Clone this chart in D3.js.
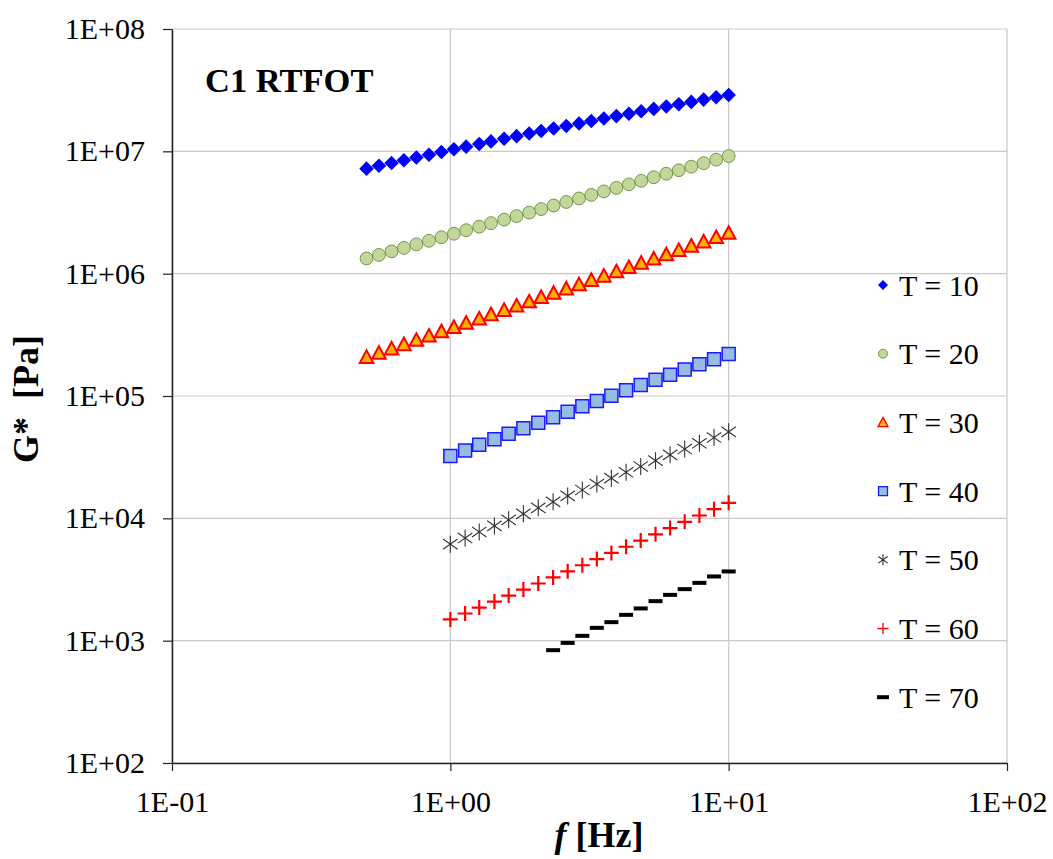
<!DOCTYPE html>
<html>
<head>
<meta charset="utf-8">
<script src="https://cdn.jsdelivr.net/npm/d3@7/dist/d3.min.js"></script>
<style>
body { margin: 0; background: #fff; }
svg text { font-family: "Liberation Serif", "Times New Roman", Times, "DejaVu Serif", serif; fill: #000; }
</style>
</head>
<body>
<svg id="chart"></svg>
<script>
// frequencies [Hz]
const freqLow = [0.5, 0.554, 0.615, 0.681, 0.755, 0.838, 0.929, 1.03, 1.14, 1.27, 1.40, 1.56, 1.73, 1.92, 2.12,
    2.35, 2.61, 2.90, 3.21, 3.56, 3.95, 4.38, 4.85, 5.38, 5.97, 6.62, 7.34, 8.13, 9.02, 10];
const freqHigh = [1, 1.13, 1.27, 1.44, 1.62, 1.83, 2.07, 2.34, 2.64, 2.98, 3.36, 3.79, 4.28, 4.83, 5.46, 6.16,
    6.95, 7.85, 8.86, 10];
const freqT70 = [2.34, 2.64, 2.98, 3.36, 3.79, 4.28, 4.83, 5.46, 6.16, 6.95, 7.85, 8.86, 10];

// G* [Pa]
const gT10 = [7.22e6, 7.62e6, 8.03e6, 8.46e6, 8.91e6, 9.38e6, 9.87e6, 1.039e7, 1.092e7, 1.148e7, 1.206e7, 1.267e7,
    1.331e7, 1.397e7, 1.466e7, 1.537e7, 1.612e7, 1.689e7, 1.770e7, 1.853e7, 1.941e7, 2.031e7, 2.125e7, 2.222e7,
    2.323e7, 2.427e7, 2.535e7, 2.648e7, 2.764e7, 2.884e7];
const gT20 = [1.332e6, 1.423e6, 1.521e6, 1.625e6, 1.737e6, 1.857e6, 1.984e6, 2.121e6, 2.266e6, 2.421e6, 2.588e6,
    2.765e6, 2.955e6, 3.158e6, 3.375e6, 3.606e6, 3.855e6, 4.119e6, 4.402e6, 4.704e6, 5.028e6, 5.373e6, 5.741e6,
    6.137e6, 6.558e6, 7.008e6, 7.490e6, 8.004e6, 8.553e6, 9.141e6];
const gT30 = [2.076e5, 2.250e5, 2.439e5, 2.643e5, 2.866e5, 3.106e5, 3.366e5, 3.648e5, 3.957e5, 4.287e5, 4.647e5,
    5.037e5, 5.459e5, 5.917e5, 6.413e5, 6.951e5, 7.535e5, 8.166e5, 8.853e5, 9.594e5, 1.040e6, 1.127e6, 1.222e6,
    1.324e6, 1.435e6, 1.556e6, 1.687e6, 1.828e6, 1.982e6, 2.148e6];
const gT40 = [3.226e4, 3.587e4, 3.988e4, 4.430e4, 4.919e4, 5.458e4, 6.052e4, 6.708e4, 7.430e4, 8.228e4, 9.103e4,
    1.006e5, 1.112e5, 1.228e5, 1.355e5, 1.495e5, 1.648e5, 1.816e5, 2.000e5, 2.201e5];
const gT50 = [6152, 6902, 7737, 8674, 9719, 10880, 12180, 13640, 15250, 17050, 19060, 21300, 23780, 26550, 29620,
    33040, 36830, 41060, 45750, 50930];
const gT60 = [1491, 1667, 1865, 2087, 2336, 2616, 2932, 3286, 3686, 4136, 4643, 5213, 5859, 6585, 7403, 8325, 9372,
    10550, 11890, 13390];
const gT70 = [836, 959, 1095, 1273, 1417, 1626, 1834, 2104, 2368, 2637, 2969, 3349, 3679];

const seriesNames = ['T = 10', 'T = 20', 'T = 30', 'T = 40', 'T = 50', 'T = 60', 'T = 70'];
const xTicks = [0.1, 1, 10, 100];
const yTicks = [1e2, 1e3, 1e4, 1e5, 1e6, 1e7, 1e8];

const serif = '"Liberation Serif", "Times New Roman", Times, "DejaVu Serif", serif';

let width = 1053;
let height = 859;
let plotLeft = 172, plotRight = 1007, plotTop = 29, plotBottom = 763;

let svg = d3.select('#chart').attr('width', width).attr('height', height);

let xScale = d3.scaleLog().domain([0.1, 100]).range([plotLeft, plotRight]);
let yScale = d3.scaleLog().domain([1e2, 1e8]).range([plotBottom, plotTop]);

const series = [
    { name: seriesNames[0], freq: freqLow, g: gT10, shape: 'diamond', fill: '#0000ff', stroke: 'none', sw: 0, s: 7.3, ls: 5 },
    { name: seriesNames[1], freq: freqLow, g: gT20, shape: 'circle', fill: '#c4d79b', stroke: '#6f9a45', sw: 1, s: 6.4, ls: 4.5 },
    { name: seriesNames[2], freq: freqLow, g: gT30, shape: 'triangle', fill: '#ffb000', stroke: '#ff0000', sw: 2, s: 6.8, ls: 5 },
    { name: seriesNames[3], freq: freqHigh, g: gT40, shape: 'square', fill: '#96bce4', stroke: '#1a1aff', sw: 1.5, s: 6.5, ls: 4.5 },
    { name: seriesNames[4], freq: freqHigh, g: gT50, shape: 'star', fill: 'none', stroke: '#333', sw: 1.1, s: 8.5, ls: 5.5 },
    { name: seriesNames[5], freq: freqHigh, g: gT60, shape: 'plus', fill: 'none', stroke: '#ff0000', sw: 2.2, s: 7.5, ls: 5.5 },
    { name: seriesNames[6], freq: freqT70, g: gT70, shape: 'dash', fill: '#000', stroke: 'none', sw: 0, s: 7, ls: 6 }
];

const markerPath = (shape, s) => {
    switch (shape) {
        case 'diamond': return `M0,${-s}L${s},0L0,${s}L${-s},0Z`;
        case 'circle': return `M${s},0A${s},${s} 0 1,1 ${-s},0A${s},${s} 0 1,1 ${s},0Z`;
        case 'triangle': return `M0,${-s}L${s},${s * 0.85}L${-s},${s * 0.85}Z`;
        case 'square': return `M${-s},${-s}H${s}V${s}H${-s}Z`;
        case 'star': return `M0,${-s}V${s}M${-s * 0.85},${-s * 0.6}L${s * 0.85},${s * 0.6}M${-s * 0.85},${s * 0.6}L${s * 0.85},${-s * 0.6}`;
        case 'plus': return `M0,${-s}V${s}M${-s},0H${s}`;
        case 'dash': return `M${-s},-2H${s}V2H${-s}Z`;
    }
};

const fmtExp = d => {
    let e = Math.round(Math.log10(d));
    return '1E' + (e < 0 ? '-' : '+') + String(Math.abs(e)).padStart(2, '0');
};

// gridlines
let grid = svg.append('g').attr('stroke', '#c9c9c9').attr('stroke-width', 1.2);
grid.selectAll('.hg').data(yTicks).enter().append('line')
    .attr('x1', plotLeft).attr('x2', plotRight)
    .attr('y1', d => yScale(d)).attr('y2', d => yScale(d));
grid.selectAll('.vg').data(xTicks).enter().append('line')
    .attr('y1', plotTop).attr('y2', plotBottom)
    .attr('x1', d => xScale(d)).attr('x2', d => xScale(d));

// axes
let xAxis = d3.axisBottom(xScale).tickValues(xTicks).tickFormat(fmtExp).tickSize(8).tickSizeOuter(0).tickPadding(20);
let yAxis = d3.axisLeft(yScale).tickValues(yTicks).tickFormat(fmtExp).tickSize(9).tickSizeOuter(0).tickPadding(18);

let gx = svg.append('g').attr('transform', 'translate(0,' + plotBottom + ')').call(xAxis);
let gy = svg.append('g').attr('transform', 'translate(' + plotLeft + ',0)').call(yAxis);
[gx, gy].forEach(g => {
    g.attr('font-family', serif);
    g.selectAll('path.domain').attr('stroke', '#222').attr('stroke-width', 1.5);
    g.selectAll('.tick line').attr('stroke', '#222').attr('stroke-width', 1.2);
    g.selectAll('.tick text').attr('font-size', 30).style('font-family', serif).attr('fill', '#000');
});

// points
series.forEach(sr => {
    svg.append('g').selectAll('path')
        .data(sr.freq.map((f, i) => [f, sr.g[i]]))
        .enter()
        .append('path')
        .attr('d', markerPath(sr.shape, sr.s))
        .attr('transform', d => 'translate(' + xScale(d[0]) + ',' + yScale(d[1]) + ')')
        .attr('fill', sr.fill)
        .attr('stroke', sr.stroke)
        .attr('stroke-width', sr.sw);
});

// legend
let legend = svg.append('g');
series.forEach((sr, i) => {
    let ly = 285 + i * 68.7;
    legend.append('path')
        .attr('d', markerPath(sr.shape, sr.ls))
        .attr('transform', 'translate(883,' + ly + ')')
        .attr('fill', sr.fill)
        .attr('stroke', sr.stroke)
        .attr('stroke-width', Math.min(sr.sw, 1.3));
    legend.append('text')
        .attr('x', 899)
        .attr('y', ly)
        .attr('dy', '0.35em')
        .attr('font-size', 30)
        .style('font-family', serif)
        .text(sr.name);
});

// title and axis labels
svg.append('text')
    .attr('x', 205).attr('y', 92)
    .attr('font-size', 34.5).attr('font-weight', 'bold')
    .style('font-family', serif)
    .text('C1 RTFOT');

svg.append('text')
    .attr('transform', 'translate(38,399) rotate(-90)')
    .attr('text-anchor', 'middle')
    .attr('font-size', 36).attr('font-weight', 'bold')
    .style('font-family', serif)
    .style('white-space', 'pre')
    .text('G*  [Pa]');

let xl = svg.append('text')
    .attr('x', 599).attr('y', 847)
    .attr('text-anchor', 'middle')
    .attr('font-size', 36).attr('font-weight', 'bold')
    .style('font-family', serif);
xl.append('tspan').attr('font-style', 'italic').text('f');
xl.append('tspan').text(' [Hz]');
</script>
</body>
</html>
